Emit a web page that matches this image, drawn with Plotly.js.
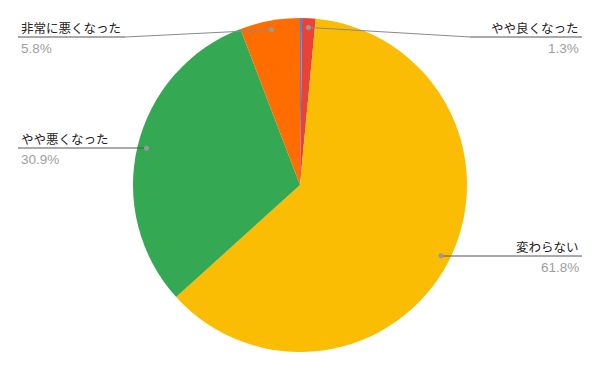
<!DOCTYPE html>
<html><head><meta charset="utf-8">
<script src="https://cdn.plot.ly/plotly-3.0.1.min.js"></script>
<style>html,body{margin:0;padding:0;background:#fff}</style>
</head><body><div id="chart" style="width:600px;height:371px"></div>
<script>
const labels = ["非常に良くなった", "やや良くなった", "変わらない", "やや悪くなった", "非常に悪くなった"];
const values = [0.2, 1.3, 61.8, 30.9, 5.8];
const colors = ["#4285F4", "#EA4335", "#FBBC04", "#34A853", "#FF6D01"];
const pctText = ["", "1.3%", "61.8%", "30.9%", "5.8%"];

// label placement (layout only): side, underline y (px), elbow x (px)
const labelLayout = [
  null,
  {side: "right", y: 37, elbow: 470},
  {side: "right", y: 256, elbow: null},
  {side: "left", y: 148, elbow: null},
  {side: "left", y: 37, elbow: 125}
];

const W = 600, H = 371;
const cx = 300, cy = 185, R = 167, dotR = R * 0.945;
const px = x => x / W, py = y => (H - y) / H;

const total = values.reduce((a, b) => a + b, 0);
let cum = 0;
const shapes = [], annotations = [];
values.forEach((v, i) => {
  const mid = (cum + v / 2) / total * 2 * Math.PI;
  cum += v;
  const L = labelLayout[i];
  if (!L) return;
  const dx = cx + Math.sin(mid) * dotR, dy = cy - Math.cos(mid) * dotR;
  const lineCol = "#8a8a8a";
  const outerX = L.side === "left" ? 18 : 582;
  if (L.elbow !== null) {
    shapes.push({type: "line", xref: "paper", yref: "paper", x0: px(dx), y0: py(dy), x1: px(L.elbow), y1: py(L.y), line: {color: lineCol, width: 1}});
    shapes.push({type: "line", xref: "paper", yref: "paper", x0: px(L.elbow), y0: py(L.y), x1: px(outerX), y1: py(L.y), line: {color: "#555", width: 1}});
  } else {
    shapes.push({type: "line", xref: "paper", yref: "paper", x0: px(dx), y0: py(L.y), x1: px(outerX), y1: py(L.y), line: {color: "#555", width: 1}});
  }
  shapes.push({type: "circle", xref: "paper", yref: "paper", x0: px(dx - 2.5), x1: px(dx + 2.5), y0: py(dy + 2.5), y1: py(dy - 2.5), fillcolor: "#999", line: {width: 0}});
  const tx = L.side === "left" ? 19 : 581;
  annotations.push({xref: "paper", yref: "paper", x: px(tx), y: py(L.y - 10), xanchor: L.side, yanchor: "middle", showarrow: false, text: labels[i], font: {family: "Noto Sans CJK JP", size: 12.5, color: "#222"}});
  annotations.push({xref: "paper", yref: "paper", x: px(tx), y: py(L.y + 11), xanchor: L.side, yanchor: "middle", showarrow: false, text: pctText[i], font: {family: "Arial, Liberation Sans", size: 13.5, color: "#9e9e9e"}});
});

const data = [{
  type: "pie",
  labels: labels,
  values: values,
  sort: false,
  direction: "clockwise",
  rotation: 0,
  textinfo: "none",
  hoverinfo: "label+percent",
  marker: {colors: colors, line: {width: 0}},
  domain: {x: [0, 1], y: [19 / H, 353 / H]}
}];

const layout = {
  width: W, height: H,
  margin: {l: 0, r: 0, t: 0, b: 0},
  showlegend: false,
  paper_bgcolor: "#fff",
  shapes: shapes,
  annotations: annotations
};
Plotly.newPlot("chart", data, layout, {displayModeBar: false, staticPlot: true});
</script></body></html>
